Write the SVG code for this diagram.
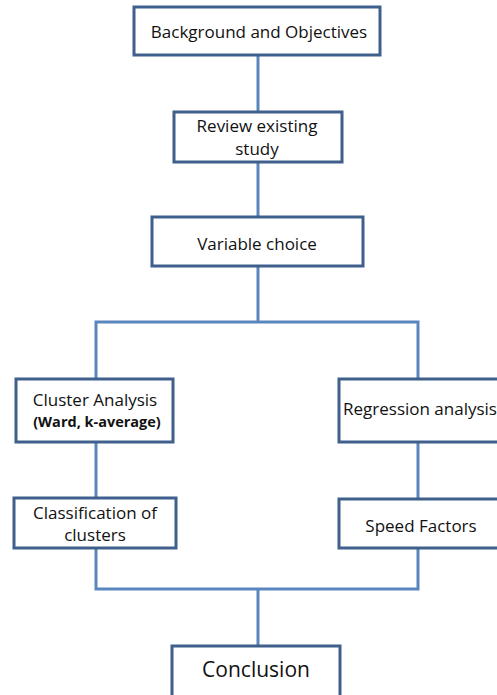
<svg xmlns="http://www.w3.org/2000/svg" width="497" height="695" viewBox="0 0 497 695">
<style>
.box{fill:#fff;stroke:#3F5F8C;stroke-width:3}
.conn{fill:none;stroke:#5A86BE;stroke-width:3}
text{font-family:"Open Sans","Noto Sans",sans-serif;font-size:17px;fill:#111;text-anchor:middle}
.b{font-weight:bold;font-size:14.5px}
.big{font-size:21px}
</style>
<rect width="497" height="695" fill="#fff"/>
<g id="connectors">
<path class="conn" d="M258 55V112M258 162V217M258 266V322M96 380V322H418V380M96 442V498M418 442V499M96 548V589H418V548M258 589V646"/>
</g>
<g id="background"><rect class="box" x="134" y="7" width="246" height="48"/><text x="259" y="38">Background and Objectives</text></g>
<g id="review"><rect class="box" x="174" y="112" width="168" height="50"/><text x="257" y="132">Review existing</text><text x="257" y="155">study</text></g>
<g id="variable"><rect class="box" x="152" y="217" width="211" height="49"/><text x="257" y="250">Variable choice</text></g>
<g id="cluster"><rect class="box" x="16" y="379" width="157" height="63"/><text x="95" y="406">Cluster Analysis</text><text class="b" x="97" y="427">(Ward, k-average)</text></g>
<g id="regression"><rect class="box" x="339" y="379" width="170" height="63"/><text x="420" y="415">Regression analysis</text></g>
<g id="classification"><rect class="box" x="14" y="498" width="162" height="50"/><text x="95" y="519">Classification of</text><text x="95" y="541">clusters</text></g>
<g id="speed"><rect class="box" x="339" y="499" width="170" height="49"/><text x="421" y="532">Speed Factors</text></g>
<g id="conclusion"><rect class="box" x="172" y="646" width="168" height="60"/><text class="big" x="256" y="677">Conclusion</text></g>
</svg>
